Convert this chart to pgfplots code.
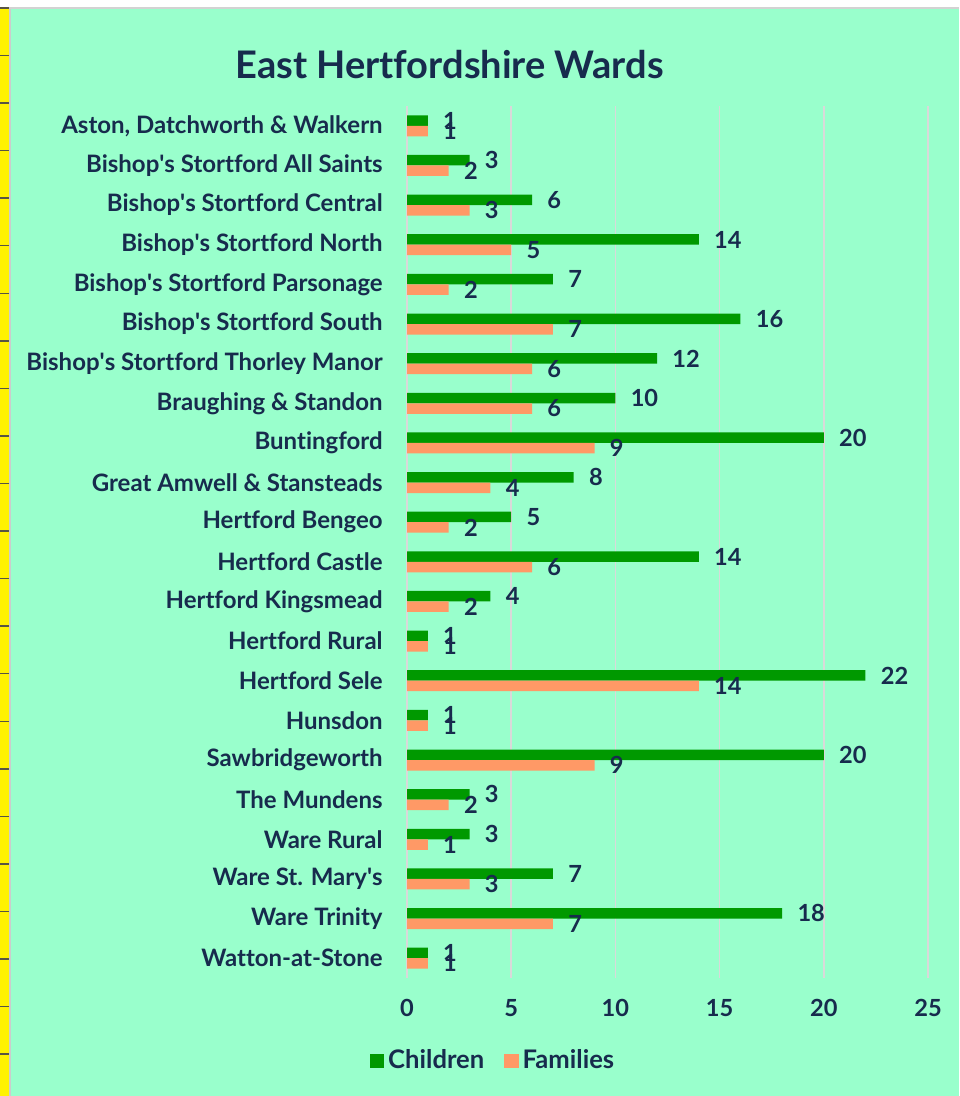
\documentclass[border=0pt]{standalone}
\usepackage{pgfplots}
\pgfplotsset{compat=1.18}
\usepackage{fontspec}
\setmainfont{Lato}[Ligatures={TeX,NoCommon}]
\definecolor{bg}{HTML}{99FFCC}
\definecolor{cgreen}{HTML}{009900}
\definecolor{corange}{HTML}{FF9966}
\definecolor{txt}{HTML}{172B4D}
\definecolor{gridc}{HTML}{D9D9D9}
\newcommand{\ap}{\textquotesingle}
\begin{document}
\begin{tikzpicture}[x=0.5pt,y=-0.5pt]
\path[use as bounding box, fill=white] (0,0) rectangle (959,1096);
\fill[gray!35] (0,7) rectangle (959,9.5);
\fill[yellow] (0,9) rectangle (9,1096);
\fill[gray!40] (9,9) rectangle (10.5,1096);
\fill[bg] (10.5,9.5) rectangle (959,1096);
\foreach \k in {0,...,22} \draw[line width=0.7pt, black!75!yellow] (0,{8+47.55*\k}) -- (9,{8+47.55*\k});
\node[font=\bfseries\fontsize{19}{22}\selectfont, text=txt] at (449.5,65) {East Hertfordshire Wards};
\begin{axis}[
  at={(203.5pt,-489pt)}, anchor=south west,
  scale only axis, width=260.5pt, height=436pt,
  xbar, bar width=5.25pt,
  xmin=0, xmax=25, ymin=-0.5, ymax=21.5,
  xtick={0,5,...,25}, ytick={0,...,21},
  yticklabels={Watton-at-Stone, Ware Trinity, Ware St. Mary\ap s, Ware Rural, The Mundens, Sawbridgeworth, Hunsdon, Hertford Sele, Hertford Rural, Hertford Kingsmead, Hertford Castle, Hertford Bengeo, Great Amwell \& Stansteads, Buntingford, Braughing \& Standon, Bishop\ap s Stortford Thorley Manor, Bishop\ap s Stortford South, Bishop\ap s Stortford Parsonage, Bishop\ap s Stortford North, Bishop\ap s Stortford Central, Bishop\ap s Stortford All Saints, {Aston, Datchworth \& Walkern}},
  xmajorgrids, major grid style={gridc, line width=0.75pt},
  axis line style={draw=none}, major tick length=0pt,
  /pgf/number format/assume math mode=true,
  xticklabel style={font=\bfseries\fontsize{11.8}{14}\selectfont, text=txt, anchor=center, yshift=-15pt},
  yticklabel style={font=\bfseries\fontsize{12}{14}\selectfont, text=txt, anchor=east, xshift=-12pt, inner sep=0pt},
  nodes near coords,
  every node near coord/.append style={anchor=west, xshift=7.5pt, inner sep=0pt, font=\bfseries\fontsize{11.8}{14}\selectfont, text=txt},
  clip=false,
  legend style={at={(0.167,-0.095)}, anchor=center, legend columns=2, draw=none, fill=none, font=\bfseries\fontsize{12.8}{15}\selectfont, text=txt, /tikz/every even column/.append style={column sep=8pt}},
  legend image code/.code={\fill[#1, draw=none] (0pt,-3.6pt) rectangle (7.2pt,3.6pt);},
]
\addplot[fill=cgreen, draw=none, bar shift=2.625pt] coordinates {
(1,21) (3,20) (6,19) (14,18) (7,17) (16,16) (12,15) (10,14) (20,13) (8,12) (5,11)
(14,10) (4,9) (1,8) (22,7) (1,6) (20,5) (3,4) (3,3) (7,2) (18,1) (1,0)};
\addplot[fill=corange, draw=none, bar shift=-2.625pt] coordinates {
(1,21) (2,20) (3,19) (5,18) (2,17) (7,16) (6,15) (6,14) (9,13) (4,12) (2,11)
(6,10) (2,9) (1,8) (14,7) (1,6) (9,5) (2,4) (1,3) (3,2) (7,1) (1,0)};
\legend{Children, Families}
\end{axis}
\end{tikzpicture}
\end{document}
